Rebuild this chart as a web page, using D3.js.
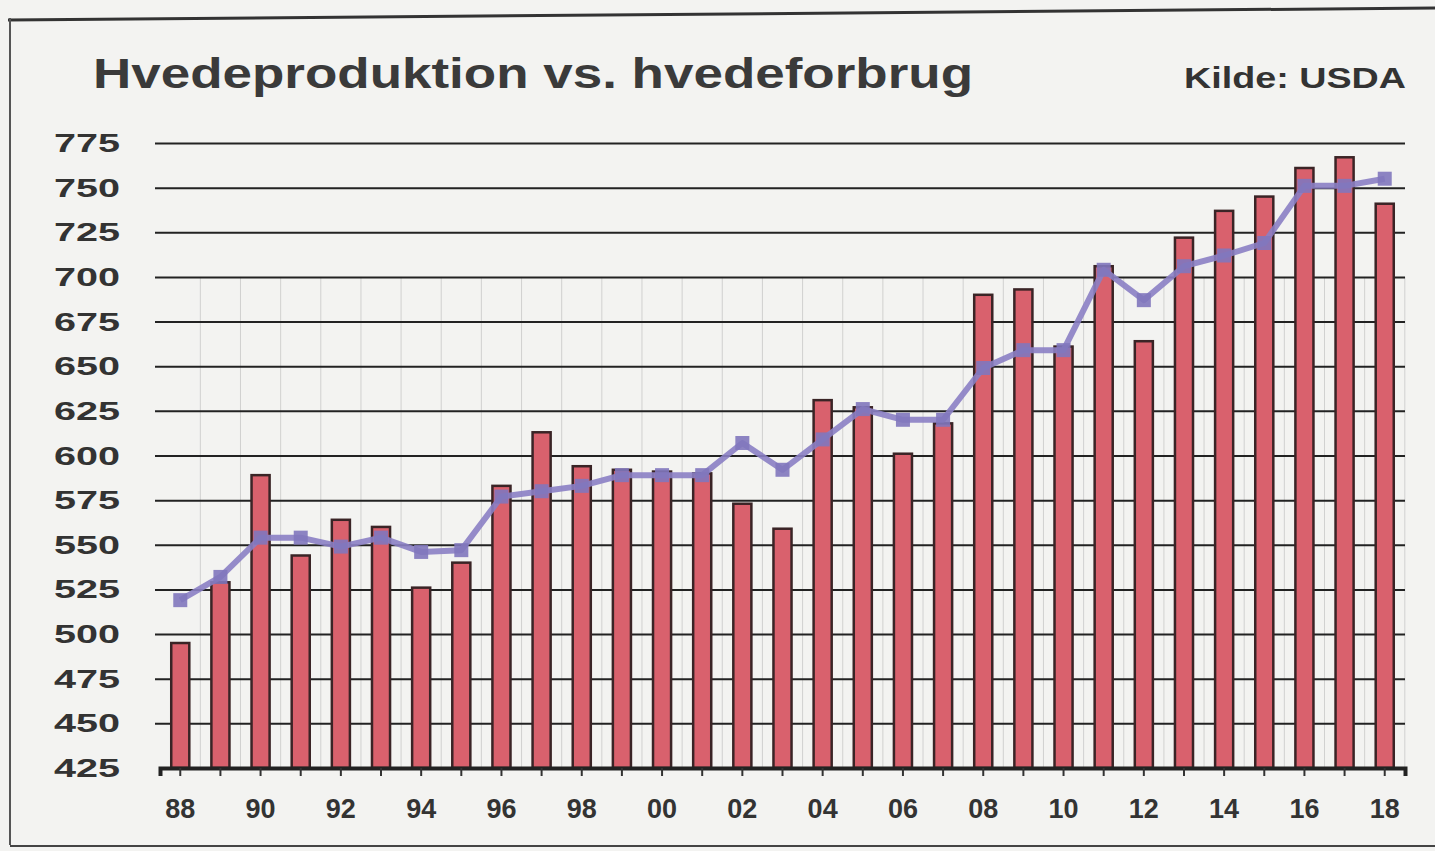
<!DOCTYPE html>
<html>
<head>
<meta charset="utf-8">
<script src="https://cdn.jsdelivr.net/npm/d3@7"></script>
<style>
  body { margin: 0; background: #f3f3f1; }
  text { font-family: "Liberation Sans", Arial, sans-serif; }
</style>
</head>
<body>
<div id="chart"></div>
<script>
// Data (mio. tons)
var years = ["88","89","90","91","92","93","94","95","96","97","98","99","00","01","02","03",
             "04","05","06","07","08","09","10","11","12","13","14","15","16","17","18"];
var production = [495,529,589,544,564,560,526,540,583,613,594,592,591,590,573,559,
                  631,627,601,618,690,693,661,706,664,722,737,745,761,767,741];
var consumption = [519,532,554,554,549,554,546,547,577,580,583,589,589,589,607,592,
                   609,626,620,620,649,659,659,704,687,706,712,719,751,751,755];
var yTicks = [425,450,475,500,525,550,575,600,625,650,675,700,725,750,775];
var xLabels = ["88","90","92","94","96","98","00","02","04","06","08","10","12","14","16","18"];

var W = 1435, H = 851;
var plot = {left: 160, right: 1405, top: 143, bottom: 768};

var svg = d3.select("#chart").append("svg")
    .attr("width", W).attr("height", H);

svg.append("rect").attr("width", W).attr("height", H).attr("fill", "#f3f3f1");

// frame of the clipping
svg.append("line").attr("x1", 8).attr("x2", W).attr("y1", 20).attr("y2", 8)
    .attr("stroke", "#333").attr("stroke-width", 3);
svg.append("line").attr("x1", 10).attr("x2", 10).attr("y1", 18).attr("y2", 845)
    .attr("stroke", "#555").attr("stroke-width", 2);
svg.append("line").attr("x1", 10).attr("x2", W).attr("y1", 846).attr("y2", 846)
    .attr("stroke", "#444").attr("stroke-width", 2);

var x = d3.scaleBand().domain(years).range([plot.left, plot.right]).paddingInner(0.55).paddingOuter(0.28);
var y = d3.scaleLinear().domain([425, 775]).range([plot.bottom, plot.top]);

// title
svg.append("text").attr("x", 93).attr("y", 88)
    .style("font-size", "43px").style("font-weight", "bold").attr("fill", "#3a3a3a")
    .attr("textLength", 880).attr("lengthAdjust", "spacingAndGlyphs")
    .text("Hvedeproduktion vs. hvedeforbrug");
svg.append("text").attr("x", 1406).attr("y", 88).attr("text-anchor", "end")
    .style("font-size", "29px").style("font-weight", "bold").attr("fill", "#333")
    .attr("textLength", 222).attr("lengthAdjust", "spacingAndGlyphs")
    .text("Kilde: USDA");

// vertical faint grid between bars
var step = x.step();
svg.append("g").selectAll("line")
    .data(years)
    .enter().append("line")
    .attr("x1", function(d){ return x(d) + x.bandwidth()/2 + step/2; })
    .attr("x2", function(d){ return x(d) + x.bandwidth()/2 + step/2; })
    .attr("y1", y(700)).attr("y2", plot.bottom)
    .attr("stroke", "#bbb").attr("stroke-width", 1).attr("opacity", 0.6);

// horizontal grid
svg.append("g")
    .attr("transform", "translate(" + (plot.left - 5) + ",0)")
    .call(d3.axisLeft(y).tickValues(yTicks.slice(1)).tickSize(-(plot.right - plot.left + 5)).tickFormat(""))
    .call(function(g){ g.select(".domain").remove(); })
    .selectAll("line").attr("stroke", "#222").attr("stroke-width", 2);

// y labels
svg.append("g").selectAll("text")
    .data(yTicks)
    .enter().append("text")
    .attr("x", 120).attr("y", function(d){ return y(d) + 9; })
    .attr("text-anchor", "end")
    .style("font-size", "26px").style("font-weight", "bold").attr("fill", "#333")
    .attr("textLength", 66).attr("lengthAdjust", "spacingAndGlyphs")
    .text(function(d){ return d; });

// bars
svg.append("g").selectAll("rect")
    .data(production)
    .enter().append("rect")
    .attr("x", function(d, i){ return x(years[i]); })
    .attr("y", function(d){ return y(d); })
    .attr("width", x.bandwidth())
    .attr("height", function(d){ return plot.bottom - y(d); })
    .attr("fill", "#d9616d")
    .attr("stroke", "#3a2426").attr("stroke-width", 2.5);

// consumption line
var line = d3.line()
    .x(function(d, i){ return x(years[i]) + x.bandwidth()/2; })
    .y(function(d){ return y(d); });
svg.append("path").datum(consumption)
    .attr("d", line)
    .attr("fill", "none").attr("stroke", "#8b80c4").attr("stroke-width", 6)
    .attr("stroke-linejoin", "round").attr("opacity", 0.9);
svg.append("g").selectAll("rect")
    .data(consumption)
    .enter().append("rect")
    .attr("x", function(d, i){ return x(years[i]) + x.bandwidth()/2 - 7; })
    .attr("y", function(d){ return y(d) - 7; })
    .attr("width", 14).attr("height", 14)
    .attr("fill", "#8177bd").attr("opacity", 0.9);

// x axis
var xAxis = svg.append("g")
    .attr("transform", "translate(0," + plot.bottom + ")")
    .call(d3.axisBottom(x).tickSize(8).tickFormat(""));
xAxis.select(".domain").attr("stroke", "#222").attr("stroke-width", 4);
xAxis.selectAll("line").attr("stroke", "#333").attr("stroke-width", 2);

svg.append("g").selectAll("text")
    .data(xLabels)
    .enter().append("text")
    .attr("x", function(d){ return x(d) + x.bandwidth()/2; })
    .attr("y", 818)
    .attr("text-anchor", "middle")
    .style("font-size", "27px").style("font-weight", "bold").attr("fill", "#333")
    .text(function(d){ return d; });
</script>
</body>
</html>
